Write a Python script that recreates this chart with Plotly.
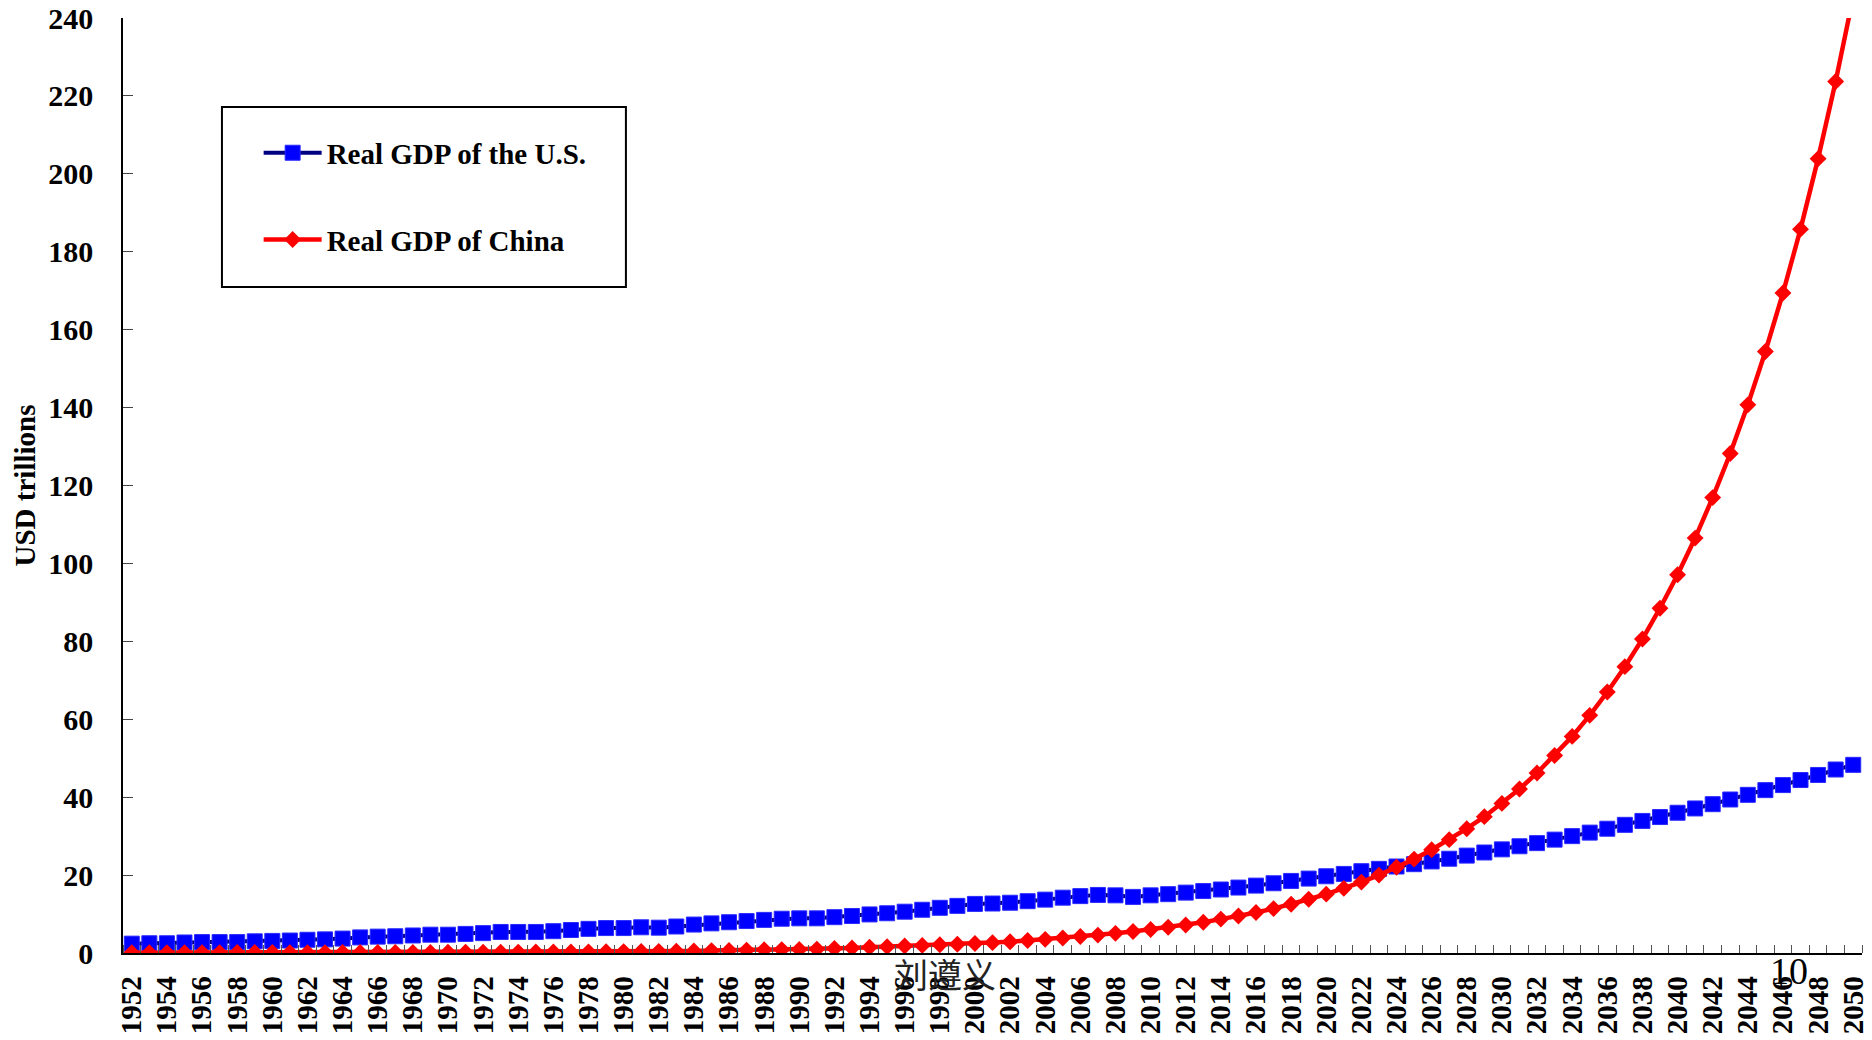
import plotly.graph_objects as go

# Years 1952-2050 (one point per year)
years = list(range(1952, 2051))

# Real GDP of the U.S., USD trillions
us_gdp = [
    2.4, 2.5, 2.5, 2.7, 2.8, 2.8, 2.8, 3.0, 3.1, 3.2,      # 1952-1961
    3.4, 3.5, 3.7, 4.0, 4.2, 4.3, 4.5, 4.7, 4.7, 4.9,      # 1962-1971
    5.1, 5.4, 5.4, 5.4, 5.6, 5.9, 6.2, 6.4, 6.4, 6.6,      # 1972-1981
    6.5, 6.8, 7.3, 7.6, 7.9, 8.2, 8.5, 8.8, 8.9, 8.9,      # 1982-1991
    9.2, 9.5, 9.9, 10.2, 10.6, 11.1, 11.6, 12.1, 12.6, 12.7,  # 1992-2001
    12.9, 13.3, 13.7, 14.2, 14.6, 14.9, 14.8, 14.4, 14.8, 15.1,  # 2002-2011
    15.5, 15.9, 16.3, 16.8, 17.3, 17.9, 18.5, 19.1, 19.7, 20.3,  # 2012-2021
    21.0, 21.6, 22.2, 22.8, 23.5, 24.2, 25.0, 25.8, 26.6, 27.4,  # 2022-2031
    28.2, 29.1, 30.0, 30.9, 31.9, 32.9, 33.9, 34.9, 36.0, 37.1,  # 2032-2041
    38.2, 39.4, 40.6, 41.8, 43.1, 44.4, 45.7, 47.1, 48.3,        # 2042-2050
]

# Real GDP of China, USD trillions
china_gdp = [
    0.07, 0.08, 0.08, 0.09, 0.10, 0.10, 0.13, 0.14, 0.14, 0.10,  # 1952-1961
    0.09, 0.10, 0.12, 0.14, 0.15, 0.14, 0.14, 0.16, 0.19, 0.20,  # 1962-1971
    0.21, 0.22, 0.23, 0.25, 0.24, 0.26, 0.30, 0.33, 0.36, 0.38,  # 1972-1981
    0.42, 0.47, 0.54, 0.61, 0.67, 0.75, 0.83, 0.87, 0.92, 1.00,  # 1982-1991
    1.15, 1.30, 1.47, 1.63, 1.79, 1.95, 2.10, 2.26, 2.45, 2.66,  # 1992-2001
    2.90, 3.19, 3.51, 3.84, 4.23, 4.60, 5.05, 5.50, 6.05, 6.60,  # 2002-2011
    7.20, 7.90, 8.70, 9.50, 10.4, 11.4, 12.5, 13.8, 15.1, 16.6,  # 2012-2021
    18.2, 20.0, 22.0, 24.1, 26.5, 29.1, 31.9, 35.0, 38.4, 42.1,  # 2022-2031
    46.2, 50.7, 55.6, 61.0, 67.0, 73.5, 80.6, 88.5, 97.1, 106.5,  # 2032-2041
    116.9, 128.2, 140.7, 154.4, 169.4, 185.8, 203.9, 223.7, 245.5,  # 2042-2050
]

# Category labels on the x axis: every other year
tick_years = list(range(1952, 2051, 2))
tick_text = [str(y) for y in tick_years]

y_ticks = list(range(0, 241, 20))

serif = "Liberation Serif, Times New Roman, serif"

fig = go.Figure()

fig.add_trace(go.Scatter(
    x=years, y=us_gdp,
    mode="lines+markers",
    name="<b>Real GDP of the U.S.</b>",
    legendgroup="us",
    line=dict(color="#000080", width=4),
    marker=dict(symbol="square", size=15, color="#0000FF",
                line=dict(color="#2a2aff", width=1)),
    cliponaxis=True,
))

fig.add_trace(go.Scatter(
    x=years, y=china_gdp,
    mode="lines+markers",
    name="<b>Real GDP of China</b>",
    legendgroup="cn",
    line=dict(color="#FF0000", width=4.5),
    marker=dict(symbol="diamond", size=13, color="#FF0000"),
    cliponaxis=True,
))

fig.update_layout(
    width=1872, height=1040,
    margin=dict(l=123, r=10, t=18, b=87, autoexpand=False),
    paper_bgcolor="white",
    plot_bgcolor="white",
    font=dict(family=serif, color="black"),
    showlegend=True,
    legend=dict(
        x=0.078, y=0.883, xanchor="left", yanchor="top",
        bgcolor="rgba(0,0,0,0)",
        borderwidth=0,
        font=dict(family=serif, size=29, color="black"),
        tracegroupgap=46,
        itemwidth=58,
    ),
    shapes=[
        dict(type="rect", xref="paper", yref="paper",
             x0=0.0569, x1=0.2892, y0=0.7123, y1=0.9048,
             line=dict(color="black", width=2), fillcolor="rgba(0,0,0,0)",
             layer="above"),
    ],
    annotations=[
        dict(text="刘遵义", xref="paper", yref="paper", x=0.4727, y=-0.0214,
             xanchor="center", yanchor="middle", showarrow=False,
             font=dict(family="Noto Sans CJK SC", size=34, color="#222222")),
        dict(text="10", xref="paper", yref="paper", x=0.958, y=-0.019,
             xanchor="center", yanchor="middle", showarrow=False,
             font=dict(family=serif, size=38, color="black")),
    ],
)

fig.update_xaxes(
    range=[1951.5, 2050.5],
    tickmode="array",
    tickvals=tick_years,
    ticktext=[f"<b>{t}</b>" for t in tick_text],
    tickangle=-90,
    tickfont=dict(family=serif, size=29, color="black"),
    ticks="",
    ticklabelstandoff=10,
    automargin=False,
    showgrid=False,
    zeroline=False,
    showline=True, linecolor="black", linewidth=1.5,
    minor=dict(tick0=1951.5, dtick=1, ticks="inside", ticklen=8,
               tickcolor="#555555", tickwidth=1, showgrid=False),
    fixedrange=True,
)

fig.update_yaxes(
    range=[0, 240],
    tickmode="array",
    tickvals=y_ticks,
    ticktext=[f"<b>{v}</b>" for v in y_ticks],
    tickfont=dict(family=serif, size=30, color="black"),
    ticks="inside", ticklen=10, tickcolor="#444444", tickwidth=1,
    ticklabelstandoff=22,
    automargin=False,
    showgrid=False,
    zeroline=False,
    showline=True, linecolor="black", linewidth=1.5,
    title=dict(text="<b>USD trillions</b>",
               font=dict(family=serif, size=29, color="black"), standoff=4),
    fixedrange=True,
)

fig.write_html("out.html", include_plotlyjs=True, config={"displayModeBar": False})
